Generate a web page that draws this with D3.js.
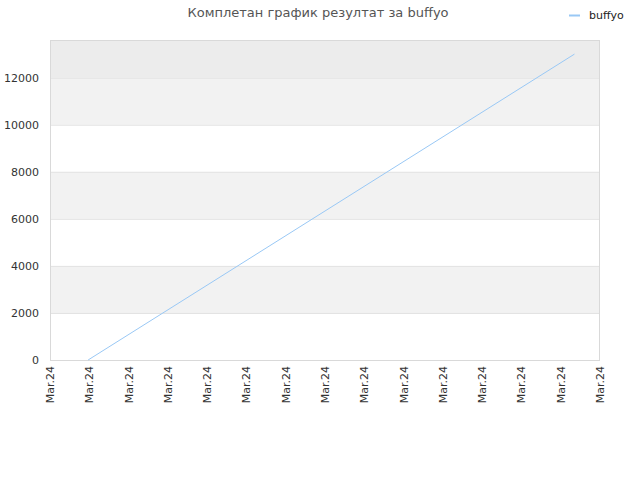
<!DOCTYPE html>
<html><head><meta charset="utf-8">
<script src="https://cdn.jsdelivr.net/npm/d3@7"></script>
<style>body{margin:0;background:#fff;}svg{display:block;font-family:"DejaVu Sans",sans-serif;}</style>
</head><body><svg id="c" width="640" height="480"></svg>
<script>
const title = "Комплетан график резултат за buffyo";
const seriesName = "buffyo";
const xTickLabels = ["Mar.24","Mar.24","Mar.24","Mar.24","Mar.24","Mar.24","Mar.24","Mar.24","Mar.24","Mar.24","Mar.24","Mar.24","Mar.24","Mar.24","Mar.24"];
const seriesX = [0.97, 13.35];
const seriesY = [0, 13000];
const yTicks = [0,2000,4000,6000,8000,10000,12000];
const yMax = 13600;

const svg = d3.select("#c");
const L=50,R=600,T=40,B=360;
const x = d3.scaleLinear().domain([0, xTickLabels.length-1]).range([L,R]);
const y = d3.scaleLinear().domain([0, yMax]).range([B,T]);

// bands
const bands = [];
for (let i=0;i<yTicks.length;i++){
  const lo=yTicks[i], hi = i<yTicks.length-1?yTicks[i+1]:yMax;
  bands.push({lo,hi,i});
}
svg.selectAll("rect.band").data(bands).enter().append("rect")
  .attr("x",L).attr("width",R-L)
  .attr("y",d=>y(d.hi)).attr("height",d=>y(d.lo)-y(d.hi))
  .attr("fill",d=> d.i===yTicks.length-1 ? "#ececec" : (d.i%2===1 ? "#f2f2f2" : "#ffffff"));

// grid
svg.selectAll("line.grid").data(yTicks.slice(1)).enter().append("line")
  .attr("x1",L).attr("x2",R).attr("y1",d=>y(d)+0.5).attr("y2",d=>y(d)+0.5)
  .attr("stroke","#e2e2e2");

// frame
svg.append("rect").attr("x",L+0.5).attr("y",T+0.5).attr("width",R-L-1).attr("height",B-T)
  .attr("fill","none").attr("stroke","#d9d9d9");

// y labels
svg.selectAll("text.yl").data(yTicks).enter().append("text")
  .attr("x",L-11).attr("y",d=>y(d)+4).attr("text-anchor","end")
  .attr("font-size",11).attr("fill","#333").text(d=>d);

// x labels
svg.selectAll("text.xl").data(xTickLabels).enter().append("text")
  .attr("transform",(d,i)=>`translate(${x(i)+4},366) rotate(-90)`)
  .attr("text-anchor","end").attr("font-size",11).attr("fill","#333").text(d=>d);

// line
const pts = seriesX.map((v,i)=>[v,seriesY[i]]);
svg.append("path").datum(pts)
  .attr("d", d3.line().x(d=>x(d[0])).y(d=>y(d[1])))
  .attr("fill","none").attr("stroke","#99c8f5").attr("stroke-width",1);

// title
svg.append("text").attr("x",318).attr("y",17).attr("text-anchor","middle")
  .attr("font-size",13).attr("fill","#555").text(title);

// legend
svg.append("line").attr("x1",569).attr("x2",580).attr("y1",15.5).attr("y2",15.5)
  .attr("stroke","#99c8f5").attr("stroke-width",2);
svg.append("text").attr("x",589).attr("y",19).attr("font-size",11).attr("fill","#222").text(seriesName);
</script></body></html>
